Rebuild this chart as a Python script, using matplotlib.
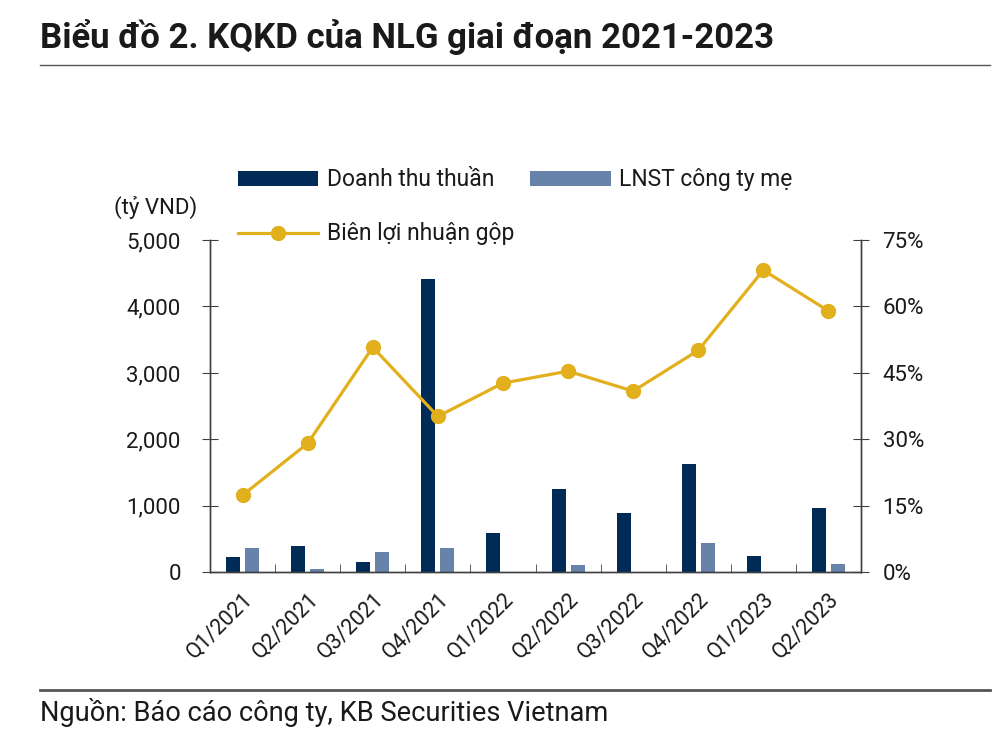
import numpy as np
import matplotlib
matplotlib.use("Agg")
import matplotlib.pyplot as plt
from matplotlib.ticker import FuncFormatter, FixedLocator

plt.rcParams['font.family'] = ['Roboto', 'DejaVu Sans']

# Du lieu (ty VND, %)
quarters = ["Q1/2021", "Q2/2021", "Q3/2021", "Q4/2021", "Q1/2022",
            "Q2/2022", "Q3/2022", "Q4/2022", "Q1/2023", "Q2/2023"]
doanh_thu = [235, 400, 150, 4420, 587, 1250, 889, 1631, 241, 964]
lnst = [366, 50, 300, 360, 5, 115, 5, 437, 5, 125]
bien_ln = [17.4, 29.1, 50.8, 35.2, 42.7, 45.4, 40.9, 50.1, 68.2, 59.0]

NAVY = "#002b57"
STEEL = "#6783a9"
GOLD = "#e2b01c"
AXC = "#404040"
TXT = "#1a1a1a"

fig = plt.figure(figsize=(10, 7.45), dpi=100)
ax = fig.add_axes([0.210, 0.2318, 0.651, 0.4460])
ax2 = ax.twinx()

x = np.arange(len(quarters))
w = 0.215
b1 = ax.bar(x - 0.146, doanh_thu, w, color=NAVY)
b2 = ax.bar(x + 0.146, lnst, w, color=STEEL)
l1, = ax2.plot(x, bien_ln, color=GOLD, lw=2.3, marker="o", ms=10)

ax.set_xlim(-0.5, len(quarters) - 0.5)
ax.set_ylim(0, 5000)
ax2.set_ylim(0, 75)
ax.set_yticks(np.arange(0, 5001, 1000))
ax2.set_yticks(np.arange(0, 76, 15))
ax.yaxis.set_major_formatter(FuncFormatter(lambda v, p: f"{int(v):,}"))
ax2.yaxis.set_major_formatter(FuncFormatter(lambda v, p: f"{int(v)}%"))

# ticks giua cac quy
ax.xaxis.set_major_locator(FixedLocator(x))
ax.xaxis.set_minor_locator(FixedLocator(np.arange(0.5, len(quarters) - 1, 1)))
ax.set_xticklabels(quarters, rotation=45, ha="right", va="top",
                   rotation_mode="anchor", fontsize=15.5, color=TXT)
ax.tick_params(axis="x", which="major", length=0, pad=12)
ax.tick_params(axis="x", which="minor", direction="in", length=6, color=AXC)

for a in (ax, ax2):
    a.spines["top"].set_visible(False)
    for s in ("left", "right", "bottom"):
        a.spines[s].set_color(AXC)
        a.spines[s].set_linewidth(1.0)
ax.tick_params(axis="y", direction="inout", length=12, labelsize=16,
               color=AXC, labelcolor=TXT, pad=15)
ax2.tick_params(axis="y", direction="inout", length=12, labelsize=16,
                color=AXC, labelcolor=TXT, pad=9.5)

fig.text(0.114, 0.721, "(tỷ VND)", fontsize=16, va="center", color=TXT)

# legend: hang 1 DT + LNST, hang 2 bien LN
fig.legend([b1, l1, b2], ["Doanh thu thuần", "Biên lợi nhuận gộp", "LNST công ty mẹ"],
           loc="upper left", bbox_to_anchor=(0.238, 0.774), ncol=2,
           frameon=False, fontsize=16.5, handlelength=3.5, handleheight=0.6,
           columnspacing=0.7, labelspacing=1.35, handletextpad=0.38,
           borderpad=0, borderaxespad=0, labelcolor=TXT)

# tieu de va nguon
fig.text(0.04, 0.950, "Biểu đồ 2. KQKD của NLG giai đoạn 2021-2023",
         fontsize=25, fontweight="bold", va="center", color=TXT)
fig.add_artist(plt.Line2D([0.04, 0.99], [0.9128, 0.9128], color="#555555", lw=1.0))
fig.add_artist(plt.Line2D([0.04, 0.99], [0.0738, 0.0738], color="#555555", lw=2.0))
fig.text(0.04, 0.043, "Nguồn: Báo cáo công ty, KB Securities Vietnam",
         fontsize=19.6, va="center", color=TXT)

fig.savefig("out.png", dpi=100)
